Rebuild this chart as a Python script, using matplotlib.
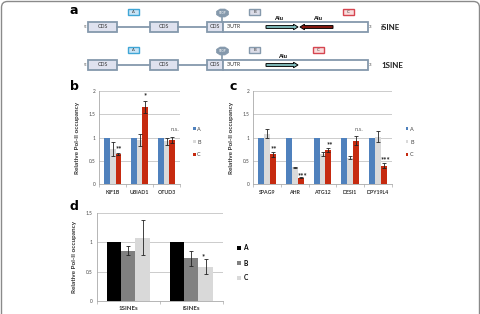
import numpy as np
import matplotlib
matplotlib.use("Agg")
import matplotlib.pyplot as plt
from matplotlib.patches import Rectangle, Polygon, FancyArrow, FancyBboxPatch

plt.rcParams['font.family'] = ['Lato', 'DejaVu Sans']

# ---------------- data ----------------
series = ["A", "B", "C"]

b_genes = ["KIF1B", "UBIAD1", "OTUD3"]
b_A = [1.0, 1.0, 1.0]
b_B = [0.75, 0.95, 0.92]
b_C = [0.65, 1.65, 0.95]
b_Berr = [0.15, 0.13, 0.08]
b_Cerr = [0.02, 0.13, 0.06]
b_sig = ["**", "*", "n.s."]
b_sig_y = [0.77, 1.90, 1.17]

c_genes = ["SPAG9", "AHR", "ATG12", "DESI1", "DPY19L4"]
c_A = [1.0, 1.0, 1.0, 1.0, 1.0]
c_B = [1.08, 0.36, 0.64, 0.57, 1.02]
c_C = [0.64, 0.14, 0.74, 0.93, 0.40]
c_Berr = [0.10, 0.02, 0.04, 0.03, 0.12]
c_Cerr = [0.05, 0.01, 0.04, 0.10, 0.06]
c_sig = ["**", "***", "**", "n.s.", "***"]
c_sig_y = [0.77, 0.19, 0.84, 1.18, 0.52]

d_groups = ["1SINEs", "iSINEs"]
d_A = [1.0, 1.0]
d_B = [0.86, 0.73]
d_C = [1.08, 0.58]
d_Berr = [0.07, 0.13]
d_Cerr = [0.30, 0.13]
d_sig = ["", "*"]
d_sig_y = [0, 0.76]

# ---------------- figure ----------------
W, H = 481, 314
fig = plt.figure(figsize=(W / 100, H / 100), dpi=100)
ov = fig.add_axes([0, 0, 1, 1])
ov.set_xlim(0, W)
ov.set_ylim(H, 0)
ov.axis("off")
ov.set_zorder(0)

# outer rounded frame
ov.add_patch(FancyBboxPatch((1.5, 1.5), W - 3, H + 20, boxstyle="round,pad=0,rounding_size=6",
                            fc="none", ec="#8a8a8a", lw=1.0))

# panel letters
for lab, (x, y) in zip("abcd", [(74, 10), (74, 86), (233, 86), (74, 207)]):
    ov.text(x, y, lab, fontsize=9, fontweight="bold", ha="center", va="center",
            family=["DejaVu Sans"])

# ---------------- panel a diagram ----------------
edge = "#8599AC"
cds_fill = "#DFE2EF"


def small_box(x0, x1, y0, y1, fc, ec, txt):
    ov.add_patch(Rectangle((x0, y0), x1 - x0, y1 - y0, fc=fc, ec=ec, lw=1.0))
    ov.text((x0 + x1) / 2, (y0 + y1) / 2, txt, fontsize=3, ha="center", va="center", color="#333333")


def stop_sign(cx, cy):
    ang = np.pi / 8 + np.arange(8) * np.pi / 4
    pts = np.column_stack([cx + 6.5 * np.cos(ang), cy + 4.3 * np.sin(ang)])
    ov.add_patch(Polygon(pts, closed=True, fc=edge, ec=edge, lw=0.5))
    ov.text(cx, cy, "STOP", fontsize=2.2, color="white", ha="center", va="center")


def gene_row(yc, c_x, alus, name):
    h = 10
    y0 = yc - h / 2
    # intron lines
    ov.plot([117, 150], [yc, yc], color=edge, lw=1.3)
    ov.plot([178, 207], [yc, yc], color=edge, lw=1.3)
    for x0, x1 in [(88, 117), (150, 178), (207, 223)]:
        ov.add_patch(Rectangle((x0, y0), x1 - x0, h, fc=cds_fill, ec=edge, lw=1.3))
        ov.text((x0 + x1) / 2, yc, "CDS", fontsize=3.8, ha="center", va="center", color="#333333")
    ov.add_patch(Rectangle((223, y0), 368 - 223, h, fc="white", ec=edge, lw=1.3))
    ov.text(227, yc, "3'UTR", fontsize=3.8, ha="left", va="center", color="#333333")
    ov.text(85, yc, "5'", fontsize=3.2, ha="center", va="center", color="#444444")
    ov.text(371, yc, "3'", fontsize=3.2, ha="center", va="center", color="#444444")
    ov.text(381, yc + 0.5, name, fontsize=5.8, fontweight="bold", ha="left", va="center", color="#222222")
    # STOP
    ov.plot([222.5, 222.5], [yc - 14, y0], color=edge, lw=1.2)
    stop_sign(222.5, yc - 14)
    # primer boxes
    yb = yc - 15
    small_box(128, 139, yb - 3, yb + 3, "#C9E4F6", "#3FA6D6", "A")
    small_box(249, 260, yb - 3, yb + 3, "#DCDDE8", edge, "B")
    small_box(c_x, c_x + 11, yb - 3, yb + 3, "#F9DCDC", "#D64550", "C")
    for (xs, xe, col, lx) in alus:
        ov.add_patch(FancyArrow(xs, yc, xe - xs, 0, width=2.8, head_width=5.5,
                                head_length=4.5, length_includes_head=True,
                                fc=col, ec="black", lw=0.7))
        ov.text(lx, yc - 9, "Alu", fontsize=4.2, fontweight="bold", ha="center", va="center")


gene_row(27, 343, [(266, 298, "#86C3C3", 279), (333, 300, "#8E1B12", 318)], "iSINE")
gene_row(65, 313, [(266, 298, "#86C3C3", 283)], "1SINE")

# ---------------- bar chart helper ----------------
colA, colB, colC = "#4F81BD", "#DADADA", "#C62A0F"


def px_axes(left, right, top, bottom):
    return fig.add_axes([left / W, 1 - bottom / H, (right - left) / W, (bottom - top) / H])


def style(ax, ymax, step, cats, labfs=3.8, bold_cats=True):
    ax.set_ylim(0, ymax)
    ax.set_yticks(np.arange(0, ymax + 1e-9, step))
    ax.set_yticklabels([f"{v:g}" for v in np.arange(0, ymax + 1e-9, step)], fontsize=3.4, color="#444444")
    ax.yaxis.grid(True, color="#C4C4C4", lw=0.6)
    ax.set_axisbelow(True)
    for s in ["top", "right"]:
        ax.spines[s].set_visible(False)
    ax.spines["left"].set_color("#AAAAAA")
    ax.spines["bottom"].set_color("#AAAAAA")
    ax.spines["left"].set_linewidth(0.6)
    ax.spines["bottom"].set_linewidth(0.6)
    ax.tick_params(axis="y", length=0, pad=3)
    n = len(cats)
    ax.set_xlim(-0.5, n - 0.5)
    ax.set_xticks(range(n))
    ax.set_xticklabels(cats, fontsize=labfs, fontweight="bold" if bold_cats else "normal", color="#333333")
    ax.tick_params(axis="x", length=0, pad=4)
    ax.set_xticks(np.arange(-0.5, n, 1.0), minor=True)
    ax.tick_params(axis="x", which="minor", length=2, color="#AAAAAA", width=0.5)
    ax.set_ylabel("Relative Pol-II occupancy", fontsize=4.6, fontweight="bold", color="#333333", labelpad=6)
    ax.patch.set_alpha(0)


def bars(ax, A, B, C, Berr, Cerr, cols, w, sig, sigy, sig_dx=0.0):
    x = np.arange(len(A))
    ek = dict(ecolor="#222222", elinewidth=0.6, capsize=1.3, capthick=0.6)
    ax.bar(x - w, A, w, color=cols[0], label=series[0])
    ax.bar(x, B, w, color=cols[1], label=series[1], yerr=Berr, error_kw=ek)
    ax.bar(x + w, C, w, color=cols[2], label=series[2], yerr=Cerr, error_kw=ek)
    for xi, s, yy in zip(x, sig, sigy):
        if s:
            if s == "n.s.":
                ax.text(xi + w + 0.12, yy, s, fontsize=4.3, ha="center", va="center", color="#666666")
            else:
                ax.text(xi + w + sig_dx, yy, s, fontsize=5.5, fontweight="bold", ha="center", va="center",
                        color="#222222")


# panel b
axb = px_axes(99.3, 180, 90.7, 184.3)
bars(axb, b_A, b_B, b_C, b_Berr, b_Cerr, (colA, colB, colC), 0.21, b_sig, b_sig_y)
style(axb, 2, 0.5, b_genes)
axb.legend(loc="center left", bbox_to_anchor=(188 / W, 1 - 142 / H), bbox_transform=fig.transFigure,
           frameon=False, fontsize=4.0, handlelength=0.45, handleheight=0.45, handletextpad=0.3,
           labelspacing=1.4, labelcolor="#444444")

# panel c
axc = px_axes(253.3, 391.7, 90.7, 184.3)
bars(axc, c_A, c_B, c_C, c_Berr, c_Cerr, (colA, colB, colC), 0.21, c_sig, c_sig_y, sig_dx=0.05)
style(axc, 2, 0.5, c_genes)
axc.legend(loc="center left", bbox_to_anchor=(401 / W, 1 - 142 / H), bbox_transform=fig.transFigure,
           frameon=False, fontsize=4.0, handlelength=0.45, handleheight=0.45, handletextpad=0.3,
           labelspacing=1.4, labelcolor="#444444")

# panel d
axd = px_axes(96.7, 222.7, 213.2, 300.7)
bars(axd, d_A, d_B, d_C, d_Berr, d_Cerr, ("#000000", "#808080", "#D9D9D9"), 0.227, d_sig, d_sig_y,
     sig_dx=-0.03)
style(axd, 1.5, 0.5, d_groups, labfs=4.4)
leg = axd.legend(loc="center left", bbox_to_anchor=(231 / W, 1 - 263 / H), bbox_transform=fig.transFigure,
                 frameon=False, fontsize=4.8, handlelength=0.55, handleheight=0.55, handletextpad=0.4,
                 labelspacing=1.2)
for t in leg.get_texts():
    t.set_fontweight("bold")

fig.savefig("out.png", dpi=100)
